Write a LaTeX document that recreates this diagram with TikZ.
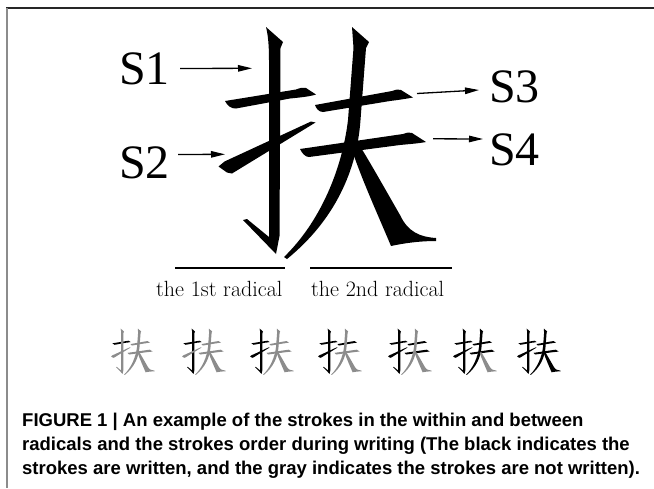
\documentclass[tikz,border=0pt]{standalone}
\usepackage{fontspec}
\newfontfamily\slabelfont{Liberation Serif}
\newfontfamily\capfont{Liberation Sans}
\usetikzlibrary{arrows.meta}
\definecolor{inkgray}{gray}{0.55}
\definecolor{framedark}{gray}{0.15}
\definecolor{framegray}{gray}{0.55}
% the character, stroke by stroke; #1 = number of strokes already written (black)
\newcommand\fuchar[1]{%
  \ifnum#1>0 \colorlet{kA}{black}\else\colorlet{kA}{inkgray}\fi
  \ifnum#1>1 \colorlet{kB}{black}\else\colorlet{kB}{inkgray}\fi
  \ifnum#1>2 \colorlet{kC}{black}\else\colorlet{kC}{inkgray}\fi
  \ifnum#1>3 \colorlet{kD}{black}\else\colorlet{kD}{inkgray}\fi
  \ifnum#1>4 \colorlet{kE}{black}\else\colorlet{kE}{inkgray}\fi
  \ifnum#1>5 \colorlet{kF}{black}\else\colorlet{kF}{inkgray}\fi
  \ifnum#1>6 \colorlet{kG}{black}\else\colorlet{kG}{inkgray}\fi
  % 1 horizontal of the hand radical
  \fill[kA] (225,101) -- (296,89.5) .. controls (300,88) and (303,87) .. (306,88)
    -- (316,94.5) .. controls (310,96.5) and (300,97.5) .. (290,98.5)
    -- (236,108.5) .. controls (231,109) and (227,105) .. (225,101) -- cycle;
  % 2 vertical with hook
  \fill[kB] (266,27) -- (283,42) -- (280.5,48) -- (279.5,236) -- (276,254)
    -- (243,220) -- (247,219) -- (269,237) -- (269,60)
    .. controls (269,45) and (268,35) .. (266,27) -- cycle;
  % 3 rising stroke
  \fill[kC] (218.5,166.5) -- (224.5,161.5) -- (311,121.5) -- (315.5,122.5)
    -- (232,173.5) -- (227,172.5) -- cycle;
  % 4 first horizontal of fu
  \fill[kD] (315,105) -- (392,91) .. controls (396,89.5) and (399,89) .. (401,90)
    -- (413,97.5) .. controls (405,99) and (398,100) .. (390,101)
    -- (323,112) .. controls (319,112) and (316,108.5) .. (315,105) -- cycle;
  % 5 second horizontal of fu
  \fill[kE] (300,149) -- (403,134) .. controls (407,132.5) and (410,132) .. (412,133)
    -- (426,142) .. controls (418,143.5) and (410,144) .. (400,145)
    -- (309,157) .. controls (305,157) and (302,153) .. (300,149) -- cycle;
  % 6 vertical and left-falling stroke
  \fill[kF] (352,27) -- (369,42) -- (366,48) -- (360.5,120)
    .. controls (357,170) and (335,220) .. (287,259) -- (284,257)
    .. controls (320,222) and (342,170) .. (348,120) -- (353.5,48) -- cycle;
  % 7 right-falling stroke
  \fill[kG] (352,150) .. controls (362,180) and (378,215) .. (391,246)
    .. controls (405,243) and (420,241) .. (436,241) -- (436,238)
    .. controls (420,237) and (408,232) .. (400,215)
    .. controls (385,189) and (370,162) .. (358,143) -- cycle;
}
\tikzset{
  slab/.style={inner sep=0pt, font=\slabelfont\fontsize{48}{48}\selectfont},
  radlab/.style={inner sep=0pt, font=\fontsize{22}{22}\selectfont},
  caplab/.style={inner sep=0pt, font=\capfont\bfseries\fontsize{18.5}{18.5}\selectfont},
  arr/.style={line width=1.3pt, -{Triangle[length=14pt,width=6.5pt]}},
  radline/.style={line width=1.6pt},
}
\begin{document}
\begin{tikzpicture}[x=1pt,y=-1pt]
\useasboundingbox (0,0) rectangle (654,488);
% frame
\draw[framedark, line width=2pt] (6,8) -- (654,8);
\draw[framegray, line width=2.4pt] (7,8) -- (7,488);
% big character
\fuchar{7}
% arrow targets on the strokes
\coordinate (p1) at (252,68.3);
\coordinate (p2) at (225,154.3);
\coordinate (q3) at (417,93.5);
\coordinate (q4) at (433,138.8);
% stroke labels
\node[slab, anchor=west] (S1) at (119,68.5) {S1};
\node[slab, anchor=west] (S2) at (119,162.5) {S2};
\node[slab, anchor=west] (S3) at (489,87) {S3};
\node[slab, anchor=west] (S4) at (489,150) {S4};
\draw[arr, shorten <=10pt] (S1.east) -- (p1);
\draw[arr] ([xshift=8pt,yshift=8pt]S2.east) -- (p2);
\draw[arr] (q3) -- ([xshift=-10pt,yshift=-3pt]S3.west);
\draw[arr] (q4) -- ([xshift=-6pt,yshift=11pt]S4.west);
% radicals
\draw[radline] (175,268) -- (285,268);
\draw[radline] (310,268) -- (452,268);
\node[radlab, anchor=base west] (r1) at (156,296) {the 1st radical};
\node[radlab, anchor=base west] (r2) at (311,296) {the 2nd radical};
% stroke order row
\foreach \k/\xx in {1/111,2/182,3/250,4/318,5/388,6/453,7/517}{
  \begin{scope}[shift={(\xx,328.5)}, scale=0.2, shift={(-218,-27)}]
    \fuchar{\k}
  \end{scope}
}
% caption
\node[caplab, anchor=base west] (c1) at (22,426) {FIGURE 1 | An example of the strokes in the within and between};
\node[caplab, anchor=base west] (c2) at (22,450) {radicals and the strokes order during writing (The black indicates the};
\node[caplab, anchor=base west] (c3) at (22,474) {strokes are written, and the gray indicates the strokes are not written).};
\end{tikzpicture}
\end{document}
